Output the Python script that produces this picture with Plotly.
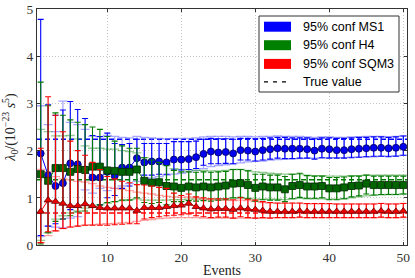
import plotly.graph_objects as go

events = list(range(1, 51))

ms1_mean = [1.94, 1.48, 1.25, 1.31, 1.73, 1.71, 1.60, 1.43, 1.43, 1.55,
            1.46, 1.64, 1.64, 1.84, 1.75, 1.77, 1.77, 1.75, 1.81, 1.81,
            1.82, 1.86, 1.93, 1.98, 1.96, 1.97, 1.94, 2.01, 2.00, 1.98,
            2.01, 2.03, 2.05, 2.04, 2.04, 2.04, 2.03, 2.00, 2.04, 2.03,
            2.01, 2.01, 2.03, 2.04, 2.05, 2.06, 2.06, 2.05, 2.06, 2.08]
ms1_hi = [4.78, 2.97, 2.75, 2.86, 3.04, 2.87, 2.68, 2.32, 2.30, 2.37,
          2.15, 2.13, 2.15, 2.24, 2.15, 2.15, 2.15, 2.15, 2.19, 2.19,
          2.19, 2.20, 2.24, 2.26, 2.25, 2.25, 2.24, 2.26, 2.26, 2.25,
          2.26, 2.27, 2.28, 2.28, 2.27, 2.27, 2.27, 2.25, 2.27, 2.27,
          2.26, 2.26, 2.27, 2.28, 2.28, 2.29, 2.29, 2.28, 2.29, 2.31]
ms1_lo = [0.20, 0.40, 0.45, 0.55, 0.75, 0.80, 0.85, 0.80, 0.85, 1.00,
          1.05, 1.20, 1.25, 1.55, 1.48, 1.48, 1.50, 1.50, 1.59, 1.59,
          1.60, 1.62, 1.69, 1.72, 1.72, 1.73, 1.72, 1.80, 1.80, 1.78,
          1.80, 1.82, 1.84, 1.83, 1.83, 1.84, 1.84, 1.82, 1.85, 1.84,
          1.84, 1.84, 1.85, 1.86, 1.87, 1.88, 1.88, 1.87, 1.88, 1.90]
ms1_light_hi = [2.95, 2.55, 2.40, 3.05, 2.60, 2.55, 2.45, 2.30, 2.29, 2.32,
                2.30, 2.28, 2.27, 2.30, 2.28, 2.27, 2.26, 2.25, 2.26, 2.26,
                2.26, 2.27, 2.29, 2.30, 2.30, 2.30, 2.29, 2.30, 2.30, 2.29,
                2.30, 2.30, 2.31, 2.30, 2.30, 2.30, 2.29, 2.28, 2.29, 2.29,
                2.28, 2.28, 2.29, 2.29, 2.30, 2.30, 2.30, 2.29, 2.30, 2.31]
ms1_light_lo = [0.18, 0.40, 0.38, 0.36, 0.57, 0.60, 1.17, 1.10, 1.20, 1.15,
                1.20, 1.25, 1.30, 1.35, 1.40, 1.42, 1.45, 1.48, 1.50, 1.52,
                1.55, 1.58, 1.62, 1.66, 1.68, 1.70, 1.72, 1.74, 1.76, 1.77,
                1.78, 1.80, 1.81, 1.82, 1.83, 1.83, 1.84, 1.84, 1.84, 1.85,
                1.85, 1.85, 1.86, 1.86, 1.87, 1.87, 1.88, 1.88, 1.89, 1.90]

h4_mean = [1.50, 1.36, 1.63, 1.63, 1.55, 1.61, 1.59, 1.66, 1.66, 1.58,
           1.57, 1.55, 1.55, 1.60, 1.36, 1.32, 1.33, 1.25, 1.24, 1.21,
           1.24, 1.22, 1.24, 1.22, 1.24, 1.26, 1.30, 1.31, 1.27, 1.21,
           1.24, 1.22, 1.22, 1.18, 1.25, 1.27, 1.24, 1.24, 1.25, 1.20,
           1.20, 1.22, 1.25, 1.26, 1.30, 1.27, 1.27, 1.27, 1.27, 1.27]
h4_hi = [3.45, 2.95, 2.80, 2.75, 2.65, 2.60, 2.55, 2.50, 2.45, 2.30,
         2.20, 2.10, 2.05, 2.05, 1.85, 1.80, 1.75, 1.68, 1.58, 1.55,
         1.55, 1.54, 1.55, 1.54, 1.55, 1.56, 1.60, 1.60, 1.57, 1.50,
         1.50, 1.48, 1.48, 1.45, 1.50, 1.52, 1.47, 1.46, 1.46, 1.43,
         1.43, 1.44, 1.46, 1.46, 1.48, 1.46, 1.46, 1.46, 1.46, 1.46]
h4_lo = [0.02, 0.26, 0.50, 0.55, 0.62, 0.70, 0.72, 0.80, 0.85, 0.90,
         0.92, 0.95, 0.95, 1.00, 0.90, 0.88, 0.90, 0.85, 0.92, 0.92,
         0.94, 0.93, 0.94, 0.93, 0.95, 0.96, 1.00, 1.01, 0.98, 0.93,
         0.96, 0.95, 0.95, 0.92, 0.98, 1.01, 0.99, 0.99, 1.00, 0.96,
         0.96, 0.98, 1.02, 1.04, 1.08, 1.06, 1.07, 1.07, 1.07, 1.08]
h4_light_hi = [2.45, 2.40, 2.31, 2.31, 2.32, 2.25, 2.10, 2.05, 2.05, 2.03,
               2.03, 2.00, 1.98, 1.95, 1.85, 1.80, 1.75, 1.70, 1.62, 1.60,
               1.59, 1.58, 1.58, 1.57, 1.57, 1.58, 1.60, 1.60, 1.58, 1.55,
               1.54, 1.52, 1.51, 1.50, 1.50, 1.50, 1.48, 1.47, 1.47, 1.46,
               1.46, 1.46, 1.47, 1.47, 1.48, 1.48, 1.48, 1.48, 1.48, 1.48]
h4_light_lo = [0.10, 0.26, 0.55, 0.62, 0.68, 0.72, 0.78, 0.82, 0.85, 0.88,
               0.92, 0.94, 0.96, 0.98, 0.95, 0.95, 0.95, 0.95, 0.96, 0.96,
               0.97, 0.97, 0.97, 0.97, 0.98, 0.98, 0.99, 1.00, 0.99, 0.97,
               0.97, 0.97, 0.97, 0.96, 0.98, 0.99, 0.98, 0.98, 0.98, 0.97,
               0.97, 0.98, 1.00, 1.02, 1.04, 1.05, 1.06, 1.07, 1.07, 1.08]

sqm3_mean = [0.71, 0.95, 0.92, 0.88, 0.83, 0.83, 0.87, 0.83, 0.79, 0.78,
             0.78, 0.78, 0.78, 0.73, 0.79, 0.79, 0.79, 0.81, 0.83, 0.84,
             0.88, 0.81, 0.78, 0.76, 0.77, 0.77, 0.75, 0.78, 0.76, 0.75,
             0.73, 0.71, 0.71, 0.71, 0.71, 0.72, 0.71, 0.71, 0.71, 0.71,
             0.71, 0.71, 0.71, 0.71, 0.71, 0.71, 0.72, 0.71, 0.71, 0.72]
sqm3_hi = [2.05, 3.14, 2.75, 2.40, 2.20, 2.00, 1.90, 1.75, 1.60, 1.45,
           1.40, 1.35, 1.32, 1.28, 1.27, 1.25, 1.22, 1.20, 1.10, 1.05,
           1.08, 1.02, 1.00, 0.98, 0.98, 0.98, 0.96, 1.00, 0.97, 0.95,
           0.92, 0.90, 0.89, 0.89, 0.89, 0.89, 0.88, 0.88, 0.88, 0.88,
           0.87, 0.87, 0.87, 0.87, 0.87, 0.87, 0.88, 0.87, 0.87, 0.88]
sqm3_lo = [0.05, 0.28, 0.30, 0.35, 0.38, 0.40, 0.42, 0.42, 0.42, 0.42,
           0.43, 0.44, 0.45, 0.45, 0.55, 0.58, 0.60, 0.62, 0.63, 0.64,
           0.66, 0.62, 0.60, 0.58, 0.59, 0.59, 0.57, 0.60, 0.58, 0.57,
           0.58, 0.57, 0.58, 0.58, 0.58, 0.59, 0.58, 0.58, 0.58, 0.58,
           0.58, 0.58, 0.58, 0.58, 0.58, 0.58, 0.59, 0.58, 0.58, 0.59]
sqm3_light_hi = [1.60, 1.55, 1.45, 1.40, 1.38, 1.35, 1.33, 1.30, 1.25, 1.22,
                 1.20, 1.18, 1.15, 1.12, 1.10, 1.08, 1.05, 1.03, 1.02, 1.01,
                 1.02, 1.00, 0.98, 0.96, 0.95, 0.95, 0.94, 0.95, 0.94, 0.92,
                 0.90, 0.89, 0.88, 0.88, 0.88, 0.88, 0.87, 0.87, 0.87, 0.87,
                 0.87, 0.87, 0.87, 0.87, 0.87, 0.87, 0.88, 0.87, 0.87, 0.88]
sqm3_light_lo = [0.05, 0.20, 0.30, 0.35, 0.38, 0.40, 0.42, 0.43, 0.44, 0.45,
                 0.46, 0.47, 0.48, 0.50, 0.52, 0.54, 0.56, 0.57, 0.58, 0.58,
                 0.58, 0.58, 0.57, 0.57, 0.57, 0.57, 0.57, 0.57, 0.57, 0.57,
                 0.57, 0.58, 0.58, 0.58, 0.58, 0.58, 0.58, 0.58, 0.58, 0.58,
                 0.58, 0.58, 0.58, 0.58, 0.58, 0.58, 0.58, 0.58, 0.58, 0.58]

true_ms1 = 2.24
true_h4 = 1.38
true_sqm3 = 0.68

series_names = ["95% conf MS1", "95% conf H4", "95% conf SQM3"]
legend_colors = ["#0000ff", "#008000", "#ff0000"]
true_label = "True value"
x_tick_vals = [10, 20, 30, 40, 50]
y_tick_vals = [0, 1, 2, 3, 4, 5]

SERIF = "Liberation Serif, DejaVu Serif, serif"
SANS = "Liberation Sans, Arial, sans-serif"

W, H = 415, 278
ML, MR, MT, MB = 37, 8, 9, 33


def px_x(p):
    return (p - ML) / (W - ML - MR)


def px_y(p):
    return (H - MB - p) / (H - MT - MB)


fig = go.Figure()


def err(mean, lo, hi):
    plus = [h - m for h, m in zip(hi, mean)]
    minus = [m - l for m, l in zip(mean, lo)]
    return plus, minus


specs = [
    (ms1_mean, ms1_lo, ms1_hi, ms1_light_lo, ms1_light_hi, true_ms1,
     "#0000ff", "rgba(110,110,255,0.6)", "circle", "#0000ee", "#00005a"),
    (h4_mean, h4_lo, h4_hi, h4_light_lo, h4_light_hi, true_h4,
     "#007a00", "rgba(60,160,60,0.55)", "square", "#006400", "#002a00"),
    (sqm3_mean, sqm3_lo, sqm3_hi, sqm3_light_lo, sqm3_light_hi, true_sqm3,
     "#ff0000", "rgba(255,90,90,0.55)", "triangle-up", "#ee0000", "#6a0000"),
]

for mean, lo, hi, llo, lhi, tv, dark, light, sym, mfill, medge in specs:
    lp, lm = err(mean, llo, lhi)
    fig.add_trace(go.Scatter(
        x=events, y=mean, mode="markers",
        marker=dict(color="rgba(0,0,0,0)", size=1),
        error_y=dict(type="data", symmetric=False, array=lp, arrayminus=lm,
                     color=light, thickness=1.3, width=4.5),
        showlegend=False, hoverinfo="skip"))
    fig.add_hline(y=tv, line=dict(color=dark, dash="5px,3px", width=1.5),
                  layer="below")

for mean, lo, hi, llo, lhi, tv, dark, light, sym, mfill, medge in specs:
    p, m = err(mean, lo, hi)
    fig.add_trace(go.Scatter(
        x=events, y=mean, mode="lines+markers",
        line=dict(color=dark, width=1),
        marker=dict(symbol=sym, size=7, color=mfill,
                    line=dict(color=medge, width=0.8)),
        error_y=dict(type="data", symmetric=False, array=p, arrayminus=m,
                     color=dark, thickness=1.1, width=3),
        showlegend=False, hoverinfo="skip"))

# hand-drawn legend (matplotlib style)
shapes = [dict(type="rect", xref="paper", yref="paper",
               x0=px_x(259), x1=px_x(399), y0=px_y(92), y1=px_y(16),
               line=dict(color="#333333", width=1), fillcolor="white",
               layer="above")]
row_y = [26.7, 45.2, 63.9, 81.8]
for yy, col in zip(row_y[:3], legend_colors):
    shapes.append(dict(type="rect", xref="paper", yref="paper",
                       x0=px_x(264), x1=px_x(291), y0=px_y(yy + 5), y1=px_y(yy - 5),
                       line=dict(width=0), fillcolor=col, layer="above"))
shapes.append(dict(type="line", xref="paper", yref="paper",
                   x0=px_x(264), x1=px_x(291), y0=px_y(row_y[3]), y1=px_y(row_y[3]),
                   line=dict(color="black", width=1.2, dash="4px,5px"), layer="above"))
for s in shapes:
    fig.add_shape(**s)

for yy, txt in zip(row_y, series_names + [true_label]):
    fig.add_annotation(xref="paper", yref="paper", x=px_x(301), y=px_y(yy),
                       xanchor="left", yanchor="middle", showarrow=False,
                       text=txt, font=dict(family=SANS, size=12.5, color="black"))

fig.update_layout(
    template="none",
    width=W, height=H,
    margin=dict(l=ML, r=MR, t=MT, b=MB, autoexpand=False),
    paper_bgcolor="white", plot_bgcolor="white",
    showlegend=False,
    xaxis=dict(range=[0.5, 50.5], tickvals=x_tick_vals, automargin=False,
               showline=True, mirror="ticks", linecolor="#333333", linewidth=1.2,
               ticks="inside", ticklen=3, tickcolor="#333333",
               showgrid=True, gridcolor="#c4c4c4", griddash="1px,2px", gridwidth=1,
               zeroline=False,
               tickfont=dict(family=SERIF, size=13.5, color="#333333"),
               title=dict(text="Events",
                          font=dict(family=SERIF, size=14, color="#222222"))),
    yaxis=dict(range=[0, 5], tickvals=y_tick_vals, automargin=False,
               showline=True, mirror="ticks", linecolor="#333333", linewidth=1.2,
               ticks="inside", ticklen=3, tickcolor="#333333",
               showgrid=True, gridcolor="#c4c4c4", griddash="1px,2px", gridwidth=1,
               zeroline=False,
               tickfont=dict(family=SERIF, size=13.5, color="#333333"),
               title=dict(text="<i>λ</i><sub>0</sub>/(10<sup>−23</sup> <i>s</i><sup>5</sup>)",
                          font=dict(family=SERIF, size=14, color="#222222"))),
)

fig.write_html("out.html", config={"displayModeBar": False},
               post_script="document.body.style.margin='0';document.body.style.padding='0';")
